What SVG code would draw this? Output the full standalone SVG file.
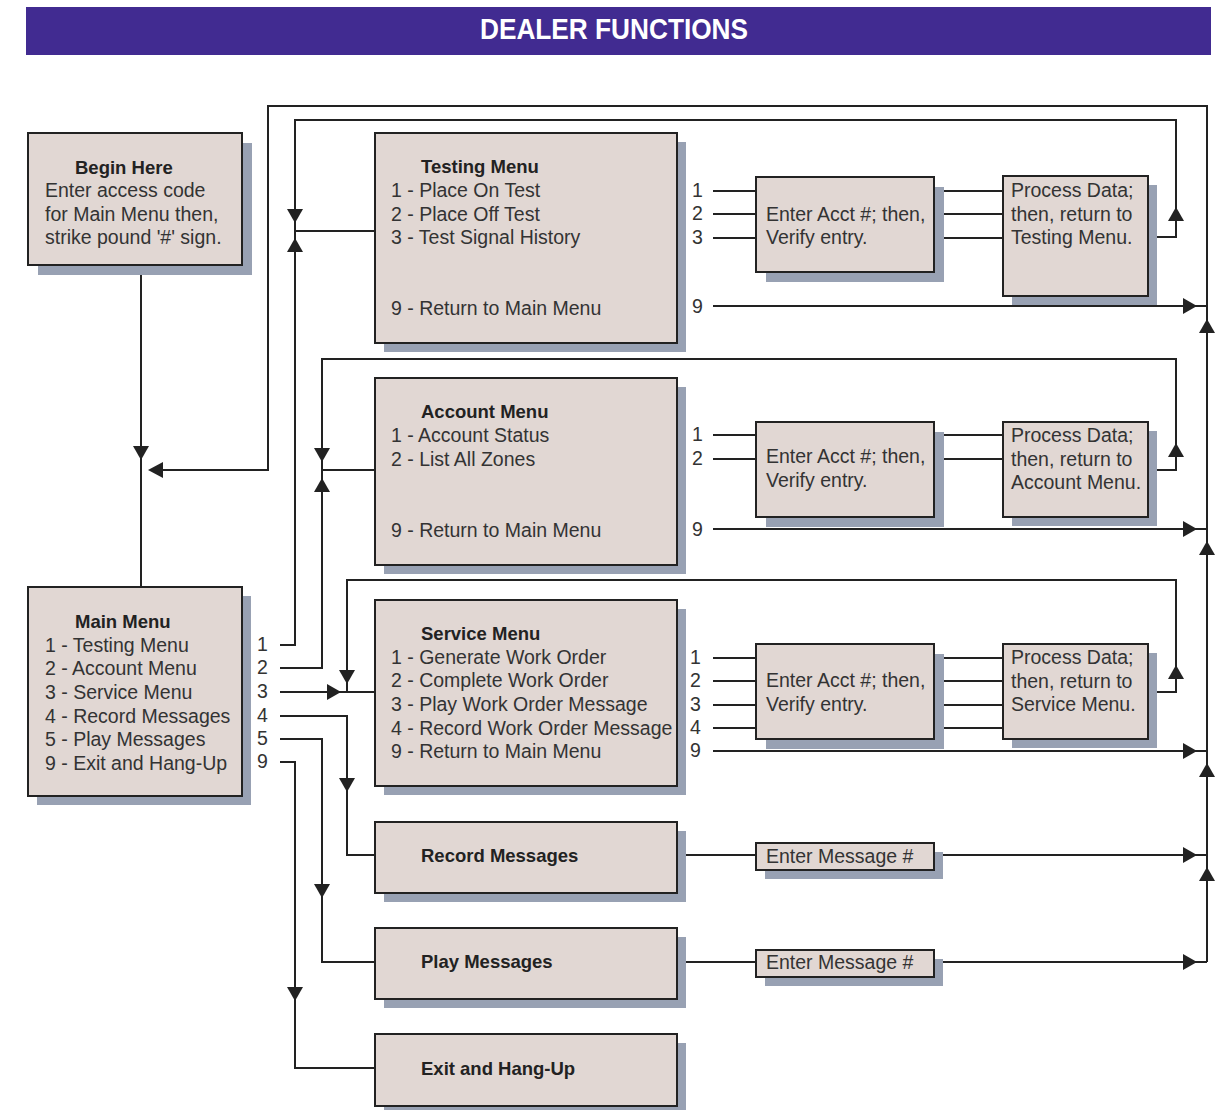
<svg xmlns="http://www.w3.org/2000/svg" width="1224" height="1110" viewBox="0 0 1224 1110">
<style>
.box{fill:#E1D7D3;stroke:#222;stroke-width:2}
.sh{fill:#98A1B3}
.ln{fill:none;stroke:#222;stroke-width:2}
.ah{fill:#222}
text{font-family:"Liberation Sans",Arial,sans-serif;font-size:19.5px;fill:#333}
.b{font-weight:bold;font-size:18.5px;fill:#222}
</style>
<rect width="1224" height="1110" fill="#fff"/>
<rect x="26" y="7" width="1185" height="48" fill="#412B91"/>
<text x="614" y="39" text-anchor="middle" font-weight="bold" style="fill:#fff;font-size:29px" textLength="268" lengthAdjust="spacingAndGlyphs">DEALER FUNCTIONS</text>

<g id="connectors">
<path class="ln" d="M141,265 V587"/>
<path class="ln" d="M1207,962 V106 H268 V470 H152"/>
<path class="ln" d="M1148,237 H1176 V120 H295 V645 H280 M295,231 H375"/>
<path class="ln" d="M1148,470 H1176 V359 H322 V668 H280 M322,470 H375"/>
<path class="ln" d="M1148,692 H1176 V580 H347 V692 M280,692 H375"/>
<path class="ln" d="M280,716 H347 V855 H375"/>
<path class="ln" d="M280,739 H322 V962 H375"/>
<path class="ln" d="M280,762 H295 V1068 H375"/>
<path class="ln" d="M713,191 H756 M713,214 H756 M713,238 H756 M934,191 H1003 M934,214 H1003 M934,238 H1003 M713,306 H1207"/>
<path class="ln" d="M713,435 H756 M713,459 H756 M934,435 H1003 M934,459 H1003 M713,529 H1207"/>
<path class="ln" d="M713,658 H756 M713,681 H756 M713,705 H756 M713,728 H756 M934,658 H1003 M934,681 H1003 M934,705 H1003 M934,728 H1003 M713,751 H1207"/>
<path class="ln" d="M677,855 H756 M934,855 H1207 M677,962 H756 M934,962 H1207"/>
<polygon class="ah" points="133,446 149,446 141,460"/>
<polygon class="ah" points="163,462 163,478 148,470"/>
<polygon class="ah" points="287,209 303,209 295,223"/>
<polygon class="ah" points="287,252 303,252 295,238"/>
<polygon class="ah" points="314,448 330,448 322,462"/>
<polygon class="ah" points="314,492 330,492 322,478"/>
<polygon class="ah" points="339,670 355,670 347,684"/>
<polygon class="ah" points="327,684 327,700 341,692"/>
<polygon class="ah" points="339,778 355,778 347,792"/>
<polygon class="ah" points="314,884 330,884 322,898"/>
<polygon class="ah" points="287,987 303,987 295,1001"/>
<polygon class="ah" points="1168,221 1184,221 1176,207"/>
<polygon class="ah" points="1168,457 1184,457 1176,443"/>
<polygon class="ah" points="1168,679 1184,679 1176,665"/>
<polygon class="ah" points="1183,298 1183,314 1197,306"/>
<polygon class="ah" points="1183,521 1183,537 1197,529"/>
<polygon class="ah" points="1183,743 1183,759 1197,751"/>
<polygon class="ah" points="1183,847 1183,863 1197,855"/>
<polygon class="ah" points="1183,954 1183,970 1197,962"/>
<polygon class="ah" points="1199,333 1215,333 1207,319"/>
<polygon class="ah" points="1199,555 1215,555 1207,541"/>
<polygon class="ah" points="1199,777 1215,777 1207,763"/>
<polygon class="ah" points="1199,881 1215,881 1207,867"/>
</g>

<g id="begin">
<rect class="sh" x="38" y="143" width="214" height="132"/>
<rect class="box" x="28" y="133" width="214" height="132"/>
<text class="b" x="75" y="174">Begin Here</text>
<text x="45" y="197">Enter access code</text>
<text x="45" y="221">for Main Menu then,</text>
<text x="45" y="244">strike pound '#' sign.</text>
</g>

<g id="main">
<rect class="sh" x="37" y="596" width="214" height="209"/>
<rect class="box" x="28" y="587" width="214" height="209"/>
<text class="b" x="75" y="628">Main Menu</text>
<text x="45" y="652">1 - Testing Menu</text>
<text x="45" y="675">2 - Account Menu</text>
<text x="45" y="699">3 - Service Menu</text>
<text x="45" y="723">4 - Record Messages</text>
<text x="45" y="746">5 - Play Messages</text>
<text x="45" y="770">9 - Exit and Hang-Up</text>
<text x="257" y="651">1</text>
<text x="257" y="674">2</text>
<text x="257" y="698">3</text>
<text x="257" y="722">4</text>
<text x="257" y="745">5</text>
<text x="257" y="768">9</text>
</g>

<g id="testing">
<rect class="sh" x="384" y="142" width="302" height="210"/>
<rect class="box" x="375" y="133" width="302" height="210"/>
<text class="b" x="421" y="173">Testing Menu</text>
<text x="391" y="197">1 - Place On Test</text>
<text x="391" y="221">2 - Place Off Test</text>
<text x="391" y="244">3 - Test Signal History</text>
<text x="391" y="315">9 - Return to Main Menu</text>
<text x="692" y="197">1</text>
<text x="692" y="220">2</text>
<text x="692" y="244">3</text>
<text x="692" y="313">9</text>
</g>

<g id="testing-enter">
<rect class="sh" x="766" y="187" width="178" height="95"/>
<rect class="box" x="756" y="177" width="178" height="95"/>
<text x="766" y="221">Enter Acct #; then,</text>
<text x="766" y="244">Verify entry.</text>
</g>

<g id="testing-process">
<rect class="sh" x="1012" y="185" width="145" height="120"/>
<rect class="box" x="1003" y="176" width="145" height="120"/>
<text x="1011" y="197">Process Data;</text>
<text x="1011" y="221">then, return to</text>
<text x="1011" y="244">Testing Menu.</text>
</g>

<g id="account">
<rect class="sh" x="384" y="387" width="302" height="187"/>
<rect class="box" x="375" y="378" width="302" height="187"/>
<text class="b" x="421" y="418">Account Menu</text>
<text x="391" y="442">1 - Account Status</text>
<text x="391" y="466">2 - List All Zones</text>
<text x="391" y="537">9 - Return to Main Menu</text>
<text x="692" y="441">1</text>
<text x="692" y="465">2</text>
<text x="692" y="536">9</text>
</g>

<g id="account-enter">
<rect class="sh" x="766" y="432" width="178" height="95"/>
<rect class="box" x="756" y="422" width="178" height="95"/>
<text x="766" y="463">Enter Acct #; then,</text>
<text x="766" y="487">Verify entry.</text>
</g>

<g id="account-process">
<rect class="sh" x="1012" y="431" width="145" height="95"/>
<rect class="box" x="1003" y="422" width="145" height="95"/>
<text x="1011" y="442">Process Data;</text>
<text x="1011" y="466">then, return to</text>
<text x="1011" y="489">Account Menu.</text>
</g>

<g id="service">
<rect class="sh" x="384" y="609" width="302" height="186"/>
<rect class="box" x="375" y="600" width="302" height="186"/>
<text class="b" x="421" y="640">Service Menu</text>
<text x="391" y="664">1 - Generate Work Order</text>
<text x="391" y="687">2 - Complete Work Order</text>
<text x="391" y="711">3 - Play Work Order Message</text>
<text x="391" y="735">4 - Record Work Order Message</text>
<text x="391" y="758">9 - Return to Main Menu</text>
<text x="690" y="664">1</text>
<text x="690" y="687">2</text>
<text x="690" y="711">3</text>
<text x="690" y="734">4</text>
<text x="690" y="757">9</text>
</g>

<g id="service-enter">
<rect class="sh" x="766" y="654" width="178" height="95"/>
<rect class="box" x="756" y="644" width="178" height="95"/>
<text x="766" y="687">Enter Acct #; then,</text>
<text x="766" y="711">Verify entry.</text>
</g>

<g id="service-process">
<rect class="sh" x="1012" y="653" width="145" height="95"/>
<rect class="box" x="1003" y="644" width="145" height="95"/>
<text x="1011" y="664">Process Data;</text>
<text x="1011" y="688">then, return to</text>
<text x="1011" y="711">Service Menu.</text>
</g>

<g id="record">
<rect class="sh" x="384" y="831" width="302" height="71"/>
<rect class="box" x="375" y="822" width="302" height="71"/>
<text class="b" x="421" y="862">Record Messages</text>
</g>

<g id="record-enter">
<rect class="sh" x="765" y="852" width="178" height="27"/>
<rect class="box" x="756" y="843" width="178" height="27"/>
<text x="766" y="863">Enter Message #</text>
</g>

<g id="play">
<rect class="sh" x="384" y="937" width="302" height="71"/>
<rect class="box" x="375" y="928" width="302" height="71"/>
<text class="b" x="421" y="968">Play Messages</text>
</g>

<g id="play-enter">
<rect class="sh" x="765" y="959" width="178" height="27"/>
<rect class="box" x="756" y="950" width="178" height="27"/>
<text x="766" y="969">Enter Message #</text>
</g>

<g id="exit">
<rect class="sh" x="384" y="1043" width="302" height="72"/>
<rect class="box" x="375" y="1034" width="302" height="72"/>
<text class="b" x="421" y="1075">Exit and Hang-Up</text>
</g>
</svg>
